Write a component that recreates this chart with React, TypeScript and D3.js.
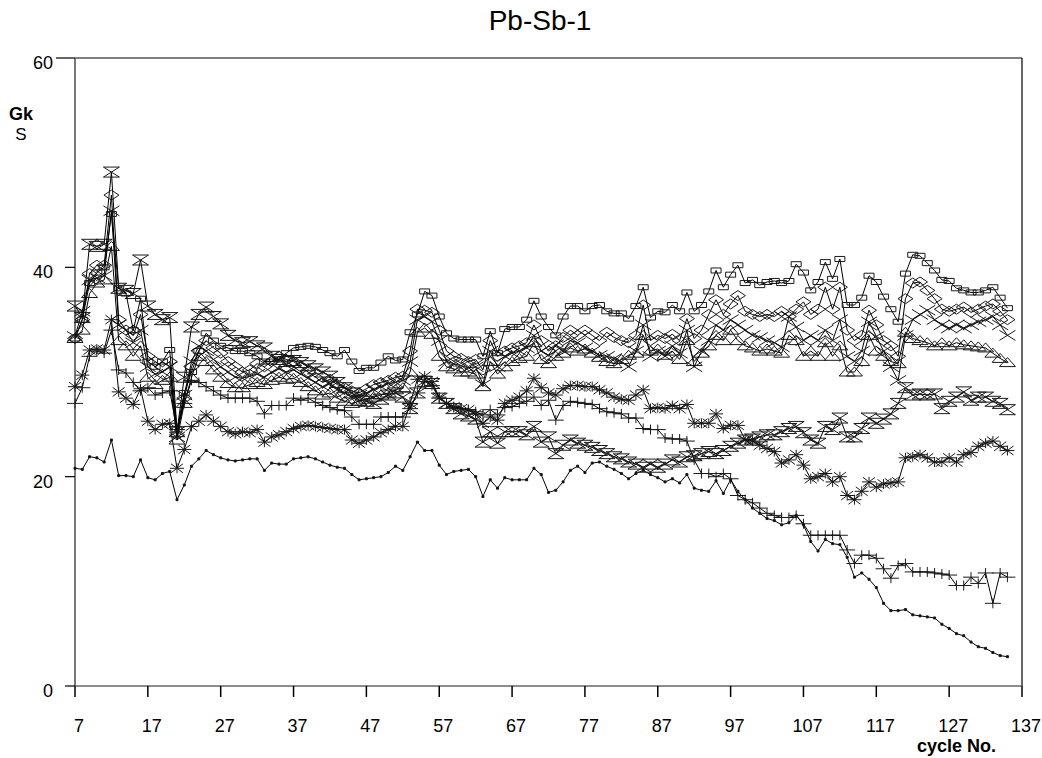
import React from "react";
import * as d3 from "d3";

// cycles run from 7 to 135, one reading per cycle
const firstCycle = 7;
const xTicks = [7, 17, 27, 37, 47, 57, 67, 77, 87, 97, 107, 117, 127, 137];
const yTicks = [0, 20, 40, 60];

const dots = [
  20.8, 20.7, 21.9, 21.8, 21.4, 23.5, 20.1, 20.1, 20.0, 21.6,
  19.9, 19.7, 20.3, 20.5, 17.8, 19.2, 21.0, 21.7, 22.5, 22.1,
  21.8, 21.6, 21.5, 21.6, 21.7, 21.7, 20.6, 21.3, 21.2, 21.2,
  21.7, 21.8, 21.9, 21.7, 21.4, 21.1, 20.9, 20.8, 20.2, 19.7,
  19.8, 19.9, 20.0, 20.4, 21.0, 20.6, 21.9, 23.3, 22.5, 22.5,
  21.1, 20.2, 20.5, 20.6, 20.7, 20.0, 18.1, 19.7, 18.9, 19.9,
  19.7, 19.7, 19.7, 20.8, 20.2, 18.5, 18.7, 19.5, 20.6, 21.0,
  20.4, 21.3, 21.4, 21.0, 20.7, 20.3, 19.8, 20.3, 20.6, 20.2,
  19.9, 19.5, 19.8, 19.4, 20.2, 18.9, 18.7, 18.6, 19.6, 18.4,
  19.7, 18.6, 17.8, 17.0, 16.5, 16.0, 15.8, 15.4, 15.6, 16.3,
  15.4, 13.8, 12.9, 14.0, 13.6, 13.5, 12.3, 10.4, 10.8, 10.2,
  9.4, 7.9, 7.2, 7.2, 7.3, 6.8, 6.7, 6.6, 6.5, 5.9,
  5.5, 5.0, 4.8, 4.2, 3.75, 3.6, 3.2, 2.9, 2.8,
];

const plus = [
  27.0, 28.5, 31.5, 32.0, 31.8, 34.0, 30.2, 29.9, 29.0, 28.2,
  28.5, 27.8, 28.0, 28.2, 24.5, 27.0, 29.2, 29.0, 28.6, 28.2,
  27.8, 27.5, 27.5, 27.5, 27.5, 27.2, 26.0, 26.8, 26.8, 26.8,
  27.5, 27.3, 27.5, 27.1, 26.8, 26.6, 26.4, 26.3, 25.7, 25.0,
  25.0, 25.0, 25.7, 25.7, 25.7, 25.7, 26.5, 28.0, 29.1, 28.7,
  27.5, 27.0, 26.6, 26.5, 26.4, 26.2, 25.9, 26.4, 25.9, 26.6,
  26.7, 27.0, 27.2, 27.6, 26.8, 27.3, 25.4, 26.8, 27.2, 27.1,
  27.0, 26.9, 26.5, 26.2, 26.1, 26.0, 25.6, 25.6, 24.6, 24.5,
  24.5, 23.7, 23.6, 23.6, 23.4, 21.6, 20.3, 20.3, 20.0, 20.3,
  19.8, 18.2, 17.8, 17.5, 17.0, 16.5, 16.3, 16.1, 16.1, 16.3,
  15.5, 14.4, 14.4, 14.4, 14.4, 14.4, 13.0, 11.7, 12.5, 12.5,
  12.2, 11.2, 10.3, 11.5, 11.7, 10.9, 10.9, 10.9, 10.8, 10.7,
  10.6, 9.6, 9.6, 10.4, 9.8, 10.8, 7.9, 10.8, 10.4,
];

const asterisk = [
  28.6, 29.7, 32.1, 32.2, 32.1, 35.0, 28.1, 27.5, 26.9, 28.4,
  25.3, 24.5, 25.0, 25.1, 20.8, 22.6, 24.8, 25.3, 25.9, 25.3,
  24.8, 24.3, 24.1, 24.3, 24.2, 24.5, 23.3, 23.8, 24.0, 24.3,
  24.6, 24.8, 24.9, 24.8, 24.7, 24.6, 24.5, 24.5, 23.5, 23.2,
  23.5, 23.8, 24.2, 24.5, 24.8, 24.8, 27.0, 29.3, 29.6, 29.1,
  27.6, 27.0, 26.7, 26.5, 26.4, 26.0, 25.1, 25.7, 25.4, 27.0,
  27.3, 27.6, 28.2, 29.4, 28.5, 28.0, 27.8, 28.4, 28.7, 28.7,
  28.6, 28.6, 28.3, 28.0, 27.6, 27.4, 27.3, 27.8, 28.3, 26.5,
  26.6, 26.5, 26.8, 26.5, 26.9, 25.1, 25.1, 25.1, 26.0, 24.6,
  24.9, 24.9, 23.5, 23.4, 23.0, 22.7, 22.4, 21.3, 21.6, 22.1,
  21.1, 19.8, 20.0, 20.3, 19.5, 20.0, 18.2, 17.8, 18.6, 19.5,
  19.0, 19.3, 19.4, 19.5, 21.8, 21.9, 22.1, 21.8, 21.4, 21.4,
  21.8, 21.4, 22.1, 22.3, 22.9, 23.2, 23.4, 22.9, 22.5,
];

const hourglass = [
  36.3, 35.2, 42.2, 42.0, 42.2, 49.1, 38.0, 37.8, 37.5, 40.7,
  36.3, 35.5, 35.0, 35.2, 24.3, 29.5, 34.3, 35.5, 36.2, 35.3,
  34.6, 33.5, 33.0, 32.8, 32.9, 32.5, 32.3, 31.5, 31.2, 31.0,
  31.1, 30.9, 30.6, 30.3, 30.0, 29.6, 29.0, 28.5, 28.0, 27.3,
  27.2, 27.0, 27.4, 27.8, 28.0, 27.6, 26.5, 28.0, 29.1, 28.9,
  27.5, 27.0, 26.5, 26.0, 25.8, 25.5, 23.3, 24.3, 23.2, 24.3,
  24.3, 24.3, 24.0, 24.8, 23.3, 23.8, 22.2, 23.0, 23.5, 23.2,
  23.0, 22.8, 22.5, 22.2, 21.9, 21.7, 21.4, 21.2, 20.9, 21.2,
  20.9, 21.2, 21.6, 21.4, 21.9, 22.0, 22.2, 22.4, 22.2, 22.5,
  22.9, 23.2, 23.5, 23.6, 23.8, 24.0, 24.0, 24.3, 24.6, 24.8,
  24.2, 23.5, 23.2, 24.8, 24.5, 25.6, 23.8, 23.8, 24.6, 25.6,
  25.1, 25.5, 26.0, 27.0, 28.5, 27.8, 27.9, 27.8, 27.9, 26.5,
  27.2, 27.6, 28.1, 27.3, 27.6, 27.6, 27.2, 27.0, 26.4,
];

const rects = [
  33.2, 35.0, 38.5, 39.5, 40.0, 45.1, 38.0, 37.5, 34.0, 37.0,
  31.0, 30.5, 31.0, 32.1, 24.5, 28.0, 30.0, 32.0, 33.7, 33.0,
  32.5, 32.3, 32.0, 32.0, 31.8, 31.5, 31.0, 31.0, 31.2, 31.8,
  32.3, 32.4, 32.5, 32.4, 32.1, 31.8, 31.5, 32.1, 31.0, 30.1,
  30.4, 30.4, 30.9, 31.5, 31.1, 31.2, 33.8, 35.5, 37.7, 37.3,
  35.3, 33.7, 33.2, 33.1, 33.1, 33.1, 31.5, 33.9, 31.8, 34.1,
  34.3, 34.3, 35.0, 36.8, 35.3, 34.3, 33.5, 35.3, 36.3, 36.3,
  35.8, 36.3, 36.4, 35.8, 35.6, 35.6, 35.1, 36.3, 38.1, 35.2,
  35.8, 35.7, 36.4, 35.8, 37.6, 35.8, 36.4, 37.7, 39.7, 38.1,
  39.3, 40.2, 38.5, 38.8, 38.3, 38.6, 38.7, 38.5, 38.7, 40.3,
  39.5, 37.8, 38.6, 40.5, 38.9, 40.8, 36.4, 36.4, 37.1, 39.2,
  38.6, 37.2, 36.0, 34.8, 39.4, 41.2, 41.1, 40.4, 39.7, 38.8,
  38.7, 38.0, 37.8, 37.6, 37.6, 37.8, 38.1, 37.1, 36.1,
];

const diamonds = [
  33.2, 35.0, 39.4, 40.2, 40.2, 46.9, 35.0, 34.0, 33.5, 35.5,
  31.5, 31.0, 30.5, 31.0, 24.0, 27.5, 30.5, 32.0, 33.0, 32.3,
  31.8, 31.0, 30.5, 30.0, 30.2, 30.8, 30.5, 31.0, 31.5, 31.2,
  31.0, 30.5, 30.0, 29.5, 29.0, 29.3, 28.8, 28.5, 28.2, 28.0,
  28.4, 28.8, 29.0, 29.2, 29.5, 29.6, 32.0, 36.0, 35.9, 35.7,
  34.0, 32.0, 31.5, 31.3, 31.0, 31.2, 30.2, 33.0, 31.5, 32.0,
  32.3, 32.5, 32.8, 34.5, 33.0, 32.0, 32.5, 33.3, 34.0, 33.5,
  34.0, 33.5, 33.0, 33.8, 33.3, 33.0, 32.8, 33.5, 36.4, 33.0,
  33.5, 33.2, 33.6, 33.0, 35.1, 33.2, 34.0, 35.5, 36.9, 35.5,
  36.5, 37.3, 35.8, 35.5, 35.3, 35.5, 35.3, 35.8, 35.3, 36.0,
  36.7, 35.5, 36.0, 38.1, 36.0, 38.1, 34.0, 33.0, 33.5, 35.9,
  34.5, 33.0, 32.5, 31.5, 37.0, 38.5, 38.6, 37.8, 37.0, 36.0,
  35.8, 36.0, 36.2, 35.7, 36.0, 36.3, 36.5, 35.8, 35.0,
];

const crosses = [
  33.4, 35.8, 38.8, 39.0, 39.2, 45.4, 34.5, 34.0, 32.8, 34.0,
  30.5, 29.8, 30.0, 30.5, 23.8, 27.8, 31.0, 32.5, 32.0, 31.2,
  30.5, 30.0, 29.5, 29.4, 29.6, 29.8, 29.5, 30.0, 30.3, 30.0,
  30.2, 29.8, 29.4, 29.0, 28.6, 28.9, 28.3, 28.0, 27.6, 27.8,
  28.0, 28.3, 28.6, 28.9, 29.0, 29.2, 31.0, 35.0, 35.3, 34.8,
  33.0, 31.0, 30.8, 30.6, 30.4, 30.5, 28.8, 32.0, 30.5, 31.5,
  31.8, 32.0, 32.3, 33.5, 32.0, 31.6, 32.6, 32.0, 33.0, 32.8,
  32.3, 32.0, 31.6, 31.5, 31.3, 31.0, 30.5, 32.0, 34.5, 31.5,
  32.0, 31.5, 32.5, 31.8, 34.0, 30.5, 32.0, 33.0, 34.5, 34.0,
  35.0, 34.5, 34.0, 33.5, 33.3, 33.0, 32.8, 32.4, 35.3, 34.3,
  33.0, 33.5, 33.0, 34.0, 33.0, 35.0, 31.5, 31.0, 32.0, 34.8,
  33.4, 32.0, 30.5, 29.2, 33.5, 35.0, 35.5, 35.9, 35.0, 34.5,
  34.2, 34.5, 34.2, 34.5, 34.8, 35.0, 35.3, 34.5, 33.5,
];

const triangles = [
  33.2, 34.0, 37.5, 38.5, 38.8, 42.0, 33.0, 32.5, 31.5, 32.5,
  29.5, 28.8, 29.2, 29.5, 23.5, 27.0, 29.5, 31.5, 31.0, 30.2,
  29.5, 28.9, 28.5, 28.5, 28.8, 29.0, 28.8, 29.2, 29.5, 29.3,
  29.4, 29.0, 28.6, 28.2, 27.8, 28.0, 27.5, 27.2, 27.0, 27.2,
  27.4, 27.6, 27.8, 28.0, 28.3, 28.5, 30.0, 33.8, 34.2, 33.6,
  31.5, 30.5, 30.3, 30.0, 30.0, 29.8, 28.6, 31.0, 29.8, 30.5,
  31.0, 31.3, 31.5, 32.8, 31.2, 30.8, 31.5, 31.8, 32.3, 32.0,
  32.2, 31.8, 31.4, 31.0, 30.8, 31.2, 31.6, 31.8, 33.5, 32.0,
  32.2, 31.6, 32.0, 31.2, 33.0, 31.0, 31.8, 32.5, 33.5, 33.0,
  34.0, 33.0, 32.5, 32.3, 32.0, 32.2, 32.0, 31.8, 33.5, 33.0,
  31.5, 32.0, 31.5, 32.8, 31.5, 32.5, 30.0, 30.0, 31.0, 33.5,
  32.0, 31.5, 31.0, 30.8, 33.8, 33.2, 33.0, 32.8, 32.5, 32.8,
  32.5, 32.8, 32.6, 32.5, 32.4, 32.3, 31.8, 31.3, 30.9,
];

// marker glyphs, centred on the point
const markerPaths: Record<string, string> = {
  dot: "M-1,-1h2v2h-2Z",
  plus: "M-8,0H8M0,-5V5",
  asterisk: "M-7,0H7M0,-5V5M-6,-4.5L6,4.5M-6,4.5L6,-4.5",
  hourglass: "M-8,-5H8L-8,5H8Z",
  rect: "M-5,-2.5h10v5h-10Z",
  diamond: "M0,-5L7.5,0L0,5L-7.5,0Z",
  cross: "M-8,-5L8,5M-8,5L8,-5",
  triangle: "M0,-5L8,4H-8Z",
};

const series = [
  { name: "dot", values: dots },
  { name: "plus", values: plus },
  { name: "asterisk", values: asterisk },
  { name: "hourglass", values: hourglass },
  { name: "triangle", values: triangles },
  { name: "cross", values: crosses },
  { name: "diamond", values: diamonds },
  { name: "rect", values: rects },
];

const left = 75;
const right = 1022;
const top = 58;
const bottom = 686;

export default function App() {
  const x = d3.scaleLinear().domain([7, 137]).range([left, right]);
  const y = d3.scaleLinear().domain([0, 60]).range([bottom, top]);
  const line = d3
    .line<number>()
    .x((d, i) => x(firstCycle + i))
    .y((d) => y(d));

  return (
    <svg
      width={1042}
      height={758}
      style={{ position: "absolute", left: 0, top: 0, background: "#fff" }}
      fontFamily="Liberation Sans, Arial, sans-serif"
    >
      <rect x={0} y={0} width={1042} height={758} fill="#fff" />
      <text x={540} y={30} fontSize={28} textAnchor="middle">
        Pb-Sb-1
      </text>

      {/* frame */}
      <line x1={left} y1={top} x2={right} y2={top} stroke="#000" strokeWidth={1.2} />
      <line x1={right} y1={top} x2={right} y2={bottom} stroke="#000" strokeWidth={1.2} />
      <line x1={left} y1={top} x2={left} y2={bottom} stroke="#777" strokeWidth={2} />
      <line x1={left} y1={bottom} x2={right} y2={bottom} stroke="#666" strokeWidth={1.6} />

      {yTicks.map((t) => (
        <g key={t}>
          <line
            x1={t === 60 ? 56 : 65}
            x2={left}
            y1={y(t)}
            y2={y(t)}
            stroke="#000"
            strokeWidth={1.2}
          />
          <text x={53} y={y(t) + 11} fontSize={18} textAnchor="end">
            {t}
          </text>
        </g>
      ))}

      {xTicks.map((t) => (
        <g key={t}>
          <line x1={x(t)} x2={x(t)} y1={bottom} y2={bottom + 11} stroke="#000" strokeWidth={1.5} />
          <text x={x(t) + 4} y={732} fontSize={18} textAnchor="middle">
            {t}
          </text>
        </g>
      ))}

      <text x={21} y={120} fontSize={18} fontWeight="bold" textAnchor="middle">
        Gk
      </text>
      <text x={21} y={140} fontSize={17} textAnchor="middle">
        S
      </text>
      <text x={996} y={752} fontSize={18} fontWeight="bold" textAnchor="end">
        cycle No.
      </text>

      {series.map((s) => (
        <g key={s.name}>
          <path d={line(s.values) || ""} fill="none" stroke="#000" strokeWidth={1} />
          {s.values.map((v, i) => (
            <path
              key={i}
              transform={`translate(${x(firstCycle + i)},${y(v)})`}
              d={markerPaths[s.name]}
              fill={s.name === "dot" ? "#000" : "none"}
              stroke="#1a1a1a"
              strokeWidth={1}
            />
          ))}
        </g>
      ))}
    </svg>
  );
}
